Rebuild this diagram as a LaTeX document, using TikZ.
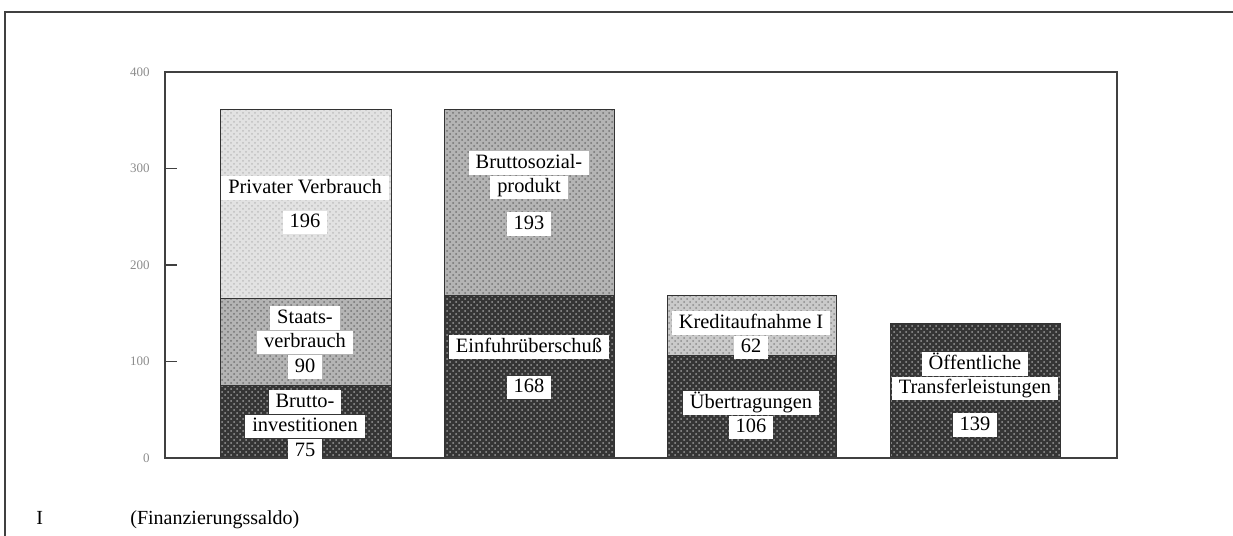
\documentclass[tikz,border=0pt]{standalone}
\usepackage{fontspec}
\setmainfont{Liberation Serif}
\usetikzlibrary{positioning,patterns}

\definecolor{lightseg}{HTML}{E2E2E2}
\definecolor{midseg}{HTML}{B4B4B4}
\definecolor{paleseg}{HTML}{CACACA}
\definecolor{darkseg}{HTML}{353535}

\tikzset{
  lbl/.style = {fill=white, inner xsep=3.5pt, inner ysep=0.8pt, text height=7.8pt, text depth=2.4pt, font=\fontsize{10.2}{12}\selectfont},
  seg/.style = {draw=black!80, line width=0.5pt},
  dots/.style = {pattern=crosshatch dots, pattern color=#1},
  ticklbl/.style = {font=\fontsize{6.5}{7}\selectfont, text=black!45, anchor=east, inner sep=1pt},
}

\begin{document}
\begin{tikzpicture}[x=0.5pt, y=-0.5pt]
\useasboundingbox (0,0) rectangle (1233,536);

% outer frame
\draw[black!75, line width=0.8pt] (5,536) -- (5,12) -- (1233,12);

% bars, in data units (0 ... 400)
\begin{scope}[shift={(0,458)}, y=0.4825pt]
  \fill[fill=darkseg]  (220,0)   rectangle (391,75);
  \fill[fill=midseg]   (220,75)  rectangle (391,165);
  \fill[fill=lightseg] (220,165) rectangle (391,361);
  \fill[fill=darkseg]  (444,0)   rectangle (614,168);
  \fill[fill=midseg]   (444,168) rectangle (614,361);
  \fill[fill=darkseg]  (667,0)   rectangle (836,106);
  \fill[fill=paleseg]  (667,106) rectangle (836,168);
  \fill[fill=darkseg]  (890,0)   rectangle (1060,139);
  % texture
  \fill[dots=white!60!black]  (220,0)   rectangle (391,75);
  \fill[dots=white!45!black]  (220,75)  rectangle (391,165);
  \fill[dots=white!75!black]  (220,165) rectangle (391,361);
  \fill[dots=white!60!black]  (444,0)   rectangle (614,168);
  \fill[dots=white!45!black]  (444,168) rectangle (614,361);
  \fill[dots=white!60!black]  (667,0)   rectangle (836,106);
  \fill[dots=white!55!black]  (667,106) rectangle (836,168);
  \fill[dots=white!60!black]  (890,0)   rectangle (1060,139);
  \draw[seg] (220,0) rectangle (391,361) (220,75) -- (391,75) (220,165) -- (391,165);
  \draw[seg] (444,0) rectangle (614,361) (444,168) -- (614,168);
  \draw[seg] (667,0) rectangle (836,168) (667,106) -- (836,106);
  \draw[seg] (890,0) rectangle (1060,139);
  % axis frame
  \draw[black!75, line width=0.7pt] (165,0) rectangle (1117,400);
  \foreach \v in {100,200,300}
    \draw[black!75, line width=0.7pt] (165,\v) -- (177,\v);
  \foreach \v in {0,100,200,300,400}
    \node[ticklbl] (t\v) at (152,\v) {\v};
\end{scope}

% bar 1
\node[lbl] (pv) at (305,188) {Privater Verbrauch};
\node[lbl, below=5pt of pv] (pv196) {196};
\node[lbl] (sv1) at (305,318) {Staats-};
\node[lbl, below=0pt of sv1] (sv2) {verbrauch};
\node[lbl, below=0pt of sv2] (sv90) {90};
\node[lbl] (bi1) at (305,402) {Brutto-};
\node[lbl, below=0pt of bi1] (bi2) {investitionen};
\node[lbl, below=0pt of bi2] (bi75) {75};

% bar 2
\node[lbl] (bsp1) at (529,163) {Bruttosozial-};
\node[lbl, below=0pt of bsp1] (bsp2) {produkt};
\node[lbl, below=6pt of bsp2] (bsp193) {193};
\node[lbl] (eu) at (529,347) {Einfuhrüberschuß};
\node[lbl, below=8pt of eu] (eu168) {168};

% bar 3
\node[lbl] (ka) at (751,323) {Kreditaufnahme I};
\node[lbl, below=0pt of ka] (ka62) {62};
\node[lbl] (ue) at (751,403) {Übertragungen};
\node[lbl, below=0pt of ue] (ue106) {106};

% bar 4
\node[lbl] (ot1) at (975,364) {Öffentliche};
\node[lbl, below=0pt of ot1] (ot2) {Transferleistungen};
\node[lbl, below=6pt of ot2] (ot139) {139};

% footnote
\node[font=\fontsize{10}{12}\selectfont, anchor=base west, inner sep=0pt] (fnmark) at (36,524) {I};
\node[font=\fontsize{10}{12}\selectfont, anchor=base west, inner sep=0pt] (fntext) at (130,524) {(Finanzierungssaldo)};
\end{tikzpicture}
\end{document}
